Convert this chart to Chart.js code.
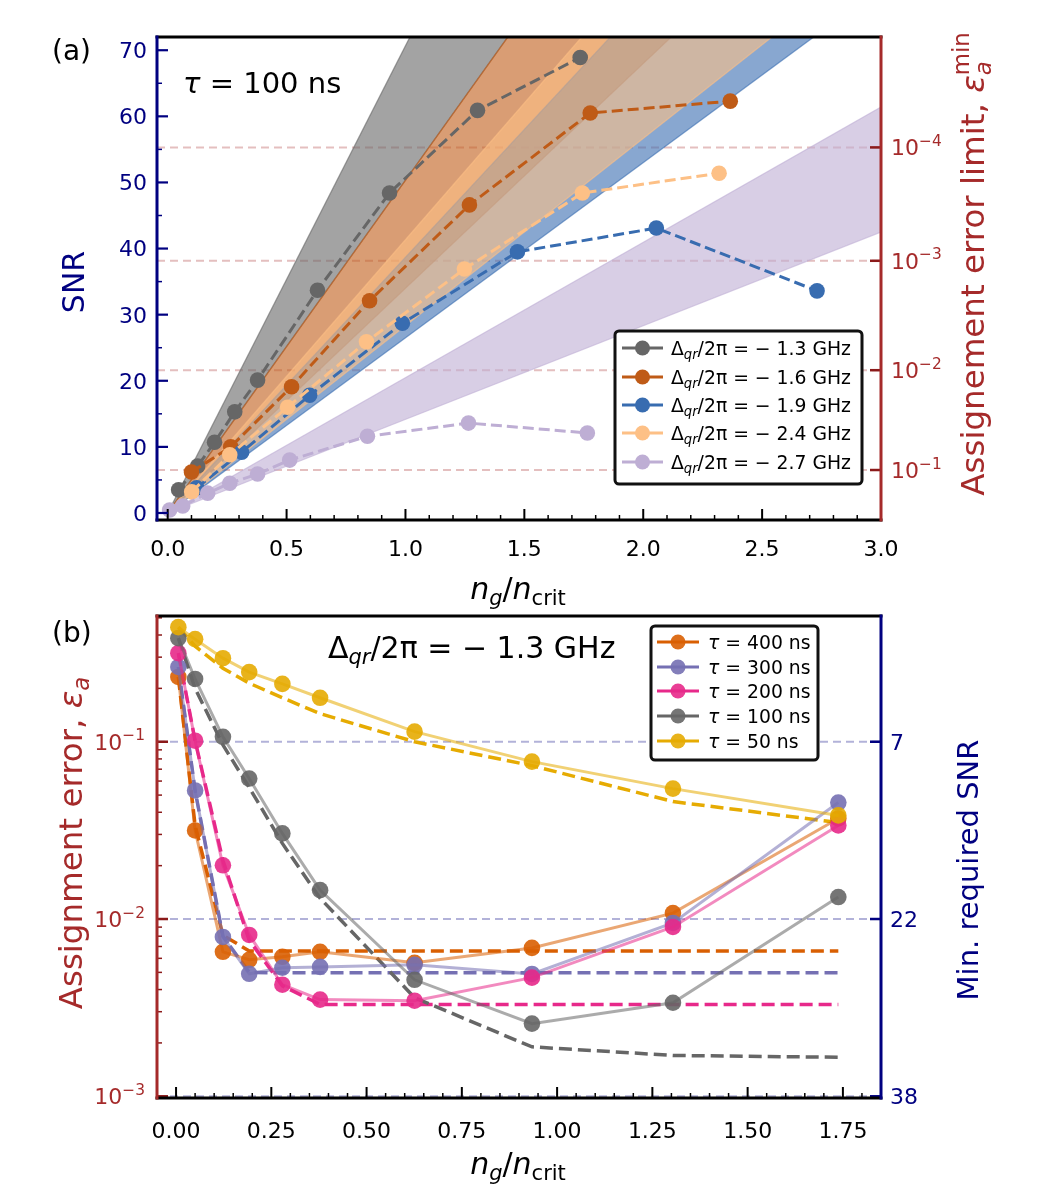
<!DOCTYPE html>
<html>
<head>
<meta charset="utf-8">
<script src="https://cdn.jsdelivr.net/npm/chart.js@4.4.1/dist/chart.umd.min.js"></script>
<style>
body { margin: 0; background: #fff; }
#wrap { position: relative; width: 1037px; height: 1200px; }
canvas { position: absolute; left: 0; }
</style>
</head>
<body>
<div id="wrap">
  <canvas id="chartA" width="1037" height="620" style="top:0"></canvas>
  <canvas id="chartB" width="1037" height="600" style="top:600px"></canvas>
</div>
<script>
// ---------- panel (a) : tau = 100 ns ----------
const ngTicksA = [0, 0.5, 1.0, 1.5, 2.0, 2.5, 3.0];
const snrTicks = [0, 10, 20, 30, 40, 50, 60, 70];
const errLimitSNR = [55.3, 38.15, 21.6, 6.5];      // where 1e-4 .. 1e-1 sit on the SNR axis
const errLimitExp = [-4, -3, -2, -1];

const detLabels = ['1.3', '1.6', '1.9', '2.4', '2.7'];
const detColors = ['#666666', '#bf5b17', '#386cb0', '#fdc086', '#beaed4'];

const ng13 = [0.046, 0.126, 0.197, 0.282, 0.378, 0.630, 0.933, 1.303, 1.735];
const snr13 = [3.5, 7.1, 10.7, 15.3, 20.1, 33.7, 48.4, 60.9, 68.9];
const ng16 = [0.100, 0.265, 0.521, 0.849, 1.269, 1.777, 2.366];
const snr16 = [6.2, 10.0, 19.1, 32.1, 46.6, 60.5, 62.3];
const ng19 = [0.122, 0.311, 0.597, 0.987, 1.471, 2.055, 2.731];
const snr19 = [3.8, 9.2, 17.8, 28.7, 39.5, 43.1, 33.6];
const ng24 = [0.101, 0.261, 0.504, 0.836, 1.248, 1.744, 2.319];
const snr24 = [3.2, 8.8, 16.0, 25.9, 36.9, 48.4, 51.4];
const ng27 = [0.008, 0.063, 0.168, 0.261, 0.378, 0.513, 0.840, 1.265, 1.765];
const snr27 = [0.45, 1.06, 3.0, 4.5, 5.9, 8.0, 11.6, 13.6, 12.1];

const ngSeries = [ng13, ng16, ng19, ng24, ng27];
const snrSeries = [snr13, snr16, snr19, snr24, snr27];

// shaded bands: edges start at the origin, SNR read where they reach ng = 3
const bandNg = [0, 3.0];
const bandHigh = [212, 151, 116, 124, 61.4];
const bandLow = [151, 102, 79.5, 85, 42.5];

// ---------- panel (b) : detuning -1.3 GHz ----------
const ngTicksB = [0, 0.25, 0.5, 0.75, 1.0, 1.25, 1.5, 1.75];
const errTicks = [0.1, 0.01, 0.001];
const errTickExp = [-1, -2, -3];
const reqSNRLabels = ['7', '22', '38'];

const tauLabels = ['400', '300', '200', '100', '50'];
const tauColors = ['#d95f02', '#7570b3', '#e7298a', '#666666', '#e6ab02'];
const ngB = [0.006, 0.05, 0.123, 0.192, 0.279, 0.378, 0.626, 0.934, 1.304, 1.738];

const err400 = [0.232, 0.0316, 0.00653, 0.00589, 0.00612, 0.00653, 0.00566, 0.00687, 0.0108, 0.0369];
const err300 = [0.264, 0.0531, 0.00792, 0.00491, 0.00531, 0.00537, 0.00552, 0.0049, 0.0095, 0.0454];
const err200 = [0.316, 0.1013, 0.0201, 0.00813, 0.00426, 0.00351, 0.00346, 0.00467, 0.00902, 0.0337];
const err100 = [0.384, 0.226, 0.1066, 0.062, 0.0304, 0.01455, 0.00454, 0.00257, 0.00337, 0.0133];
const err50 = [0.443, 0.379, 0.296, 0.247, 0.212, 0.177, 0.114, 0.0772, 0.0544, 0.0384];

const theo400 = [0.232, 0.0337, 0.0081, 0.0066, 0.0066, 0.0066, 0.0066, 0.0066, 0.0066, 0.0066];
const theo300 = [0.264, 0.053, 0.0080, 0.0050, 0.00497, 0.00497, 0.00497, 0.00497, 0.00497, 0.00497];
const theo200 = [0.316, 0.1013, 0.0214, 0.0076, 0.0042, 0.0033, 0.00329, 0.00329, 0.00329, 0.00329];
const theo100 = [0.384, 0.2, 0.096, 0.0552, 0.0267, 0.0131, 0.0036, 0.0019, 0.0017, 0.00166];
const theo50 = [0.443, 0.346, 0.26, 0.214, 0.177, 0.144, 0.100, 0.0733, 0.046, 0.035];

const errSeries = [err400, err300, err200, err100, err50];
const theoSeries = [theo400, theo300, theo200, theo100, theo50];

const NAVY = '#000080';
const BROWN = '#a52a2a';
const TICK_FONT = 22;
Chart.defaults.font.family = '"DejaVu Sans"';

function rgba(hex, a) {
    const n = parseInt(hex.slice(1), 16);
    return 'rgba(' + (n >> 16) + ',' + ((n >> 8) & 255) + ',' + (n & 255) + ',' + a + ')';
}

// small mathtext-like writer: parts are [text, kind]
// kind: '' normal, 'i' italic, 'sb' subscript, 'sbi' italic subscript, 'sp' superscript, 'ss' "sub|sup"
function fontOf(size, it) { return (it ? 'italic ' : '') + size + 'px "DejaVu Sans"'; }
function layoutRich(ctx, parts, size) {
    let w = 0;
    const items = [];
    for (const [t, k] of parts) {
        if (k === 'ss') {
            const [sb, sp] = t.split('|');
            const f1 = fontOf(size * 0.7, true), f2 = fontOf(size * 0.7, false);
            ctx.font = f1; const w1 = ctx.measureText(sb).width;
            ctx.font = f2; const w2 = ctx.measureText(sp).width;
            items.push({t: sb, x: w, dy: size * 0.22, f: f1});
            items.push({t: sp, x: w, dy: -size * 0.45, f: f2});
            w += Math.max(w1, w2);
            continue;
        }
        const small = (k === 'sb' || k === 'sbi' || k === 'sp');
        const f = fontOf(small ? size * 0.7 : size, k === 'i' || k === 'sbi');
        ctx.font = f;
        const dy = (k === 'sb' || k === 'sbi') ? size * 0.22 : (k === 'sp' ? -size * 0.42 : 0);
        items.push({t, x: w, dy, f});
        w += ctx.measureText(t).width;
    }
    return {items, w};
}
function drawRich(ctx, parts, x, y, size, color, align, rot) {
    ctx.save();
    ctx.translate(x, y);
    if (rot) ctx.rotate(rot);
    const L = layoutRich(ctx, parts, size);
    const x0 = align === 'center' ? -L.w / 2 : (align === 'right' ? -L.w : 0);
    ctx.fillStyle = color;
    ctx.textAlign = 'left';
    ctx.textBaseline = 'alphabetic';
    for (const it of L.items) {
        ctx.font = it.f;
        ctx.fillText(it.t, x0 + it.x, size * 0.36 + it.dy);
    }
    ctx.restore();
}
function drawPow(ctx, x, y, exp, color, align) {
    drawRich(ctx, [['10', ''], ['\u2212' + Math.abs(exp), 'sp']], x, y, TICK_FONT, color, align);
}

function tickY(ctx, area, scale, vals, side, len, lw, color) {
    ctx.save();
    ctx.strokeStyle = color; ctx.lineWidth = lw;
    for (const v of vals) {
        const p = scale.getPixelForValue(v);
        if (p < area.top - 0.5 || p > area.bottom + 0.5) continue;
        const x0 = side === 'left' ? area.left : area.right;
        const x1 = side === 'left' ? x0 + len : x0 - len;
        ctx.beginPath(); ctx.moveTo(x0, p); ctx.lineTo(x1, p); ctx.stroke();
    }
    ctx.restore();
}
function tickX(ctx, area, scale, vals, len, lw) {
    ctx.save();
    ctx.strokeStyle = '#000'; ctx.lineWidth = lw;
    for (const v of vals) {
        const p = scale.getPixelForValue(v);
        ctx.beginPath(); ctx.moveTo(p, area.bottom); ctx.lineTo(p, area.bottom - len); ctx.stroke();
    }
    ctx.restore();
}
function spines(ctx, area, leftColor, rightColor) {
    ctx.save();
    ctx.lineWidth = 3;
    ctx.lineCap = 'square';
    const seg = (c, x0, y0, x1, y1) => { ctx.strokeStyle = c; ctx.beginPath(); ctx.moveTo(x0, y0); ctx.lineTo(x1, y1); ctx.stroke(); };
    seg('#000', area.left, area.top, area.right, area.top);
    seg('#000', area.left, area.bottom, area.right, area.bottom);
    seg(leftColor, area.left, area.top, area.left, area.bottom);
    seg(rightColor, area.right, area.top, area.right, area.bottom);
    ctx.restore();
}
function legendBox(ctx, box, rows, ys, lx0, lx1, tx, colorsLine, colorsDot) {
    ctx.save();
    ctx.fillStyle = '#fff';
    ctx.strokeStyle = '#111';
    ctx.lineWidth = 3;
    ctx.beginPath();
    ctx.roundRect(box[0], box[1], box[2] - box[0], box[3] - box[1], 4);
    ctx.fill(); ctx.stroke();
    rows.forEach((parts, i) => {
        ctx.strokeStyle = colorsLine[i]; ctx.lineWidth = 3;
        ctx.beginPath(); ctx.moveTo(lx0, ys[i]); ctx.lineTo(lx1, ys[i]); ctx.stroke();
        ctx.fillStyle = colorsDot[i];
        ctx.beginPath(); ctx.arc((lx0 + lx1) / 2, ys[i], 7.5, 0, Math.PI * 2); ctx.fill();
        drawRich(ctx, parts, tx, ys[i], 18.8, '#000', 'left');
    });
    ctx.restore();
}
function xLabels(ctx, area, scale, vals, digits, dy) {
    vals.forEach(v => drawRich(ctx, [[v.toFixed(digits), '']], scale.getPixelForValue(v), area.bottom + dy, TICK_FONT, '#000', 'center'));
}
const ngTitle = [['n', 'i'], ['g', 'sbi'], ['/', ''], ['n', 'i'], ['crit', 'sb']];
const noTicks = {display: false};

// ---------------- chart (a) ----------------
const dsA = [];
detColors.forEach((c, i) => {
    dsA.push({
        data: ngSeries[i].map((v, j) => ({x: v, y: snrSeries[i][j]})),
        borderColor: c, borderWidth: 3, borderDash: [11, 5],
        pointRadius: 7.8, pointBackgroundColor: c, pointBorderWidth: 0,
        fill: false, order: 5 - i
    });
});
detColors.forEach((c, i) => {
    dsA.push({
        data: [{x: bandNg[0], y: 0}, {x: bandNg[1], y: bandLow[i]}],
        borderColor: rgba(c, 0.6), borderWidth: 1.3, pointRadius: 0, fill: false, order: 40 - 2 * i
    });
    dsA.push({
        data: [{x: bandNg[0], y: 0}, {x: bandNg[1], y: bandHigh[i]}],
        borderColor: rgba(c, 0.6), borderWidth: 1.3, pointRadius: 0,
        fill: '-1', backgroundColor: rgba(c, 0.6), order: 41 - 2 * i
    });
});
errLimitSNR.forEach(v => {
    dsA.push({
        data: [{x: -0.045, y: v}, {x: 3.0, y: v}],
        borderColor: 'rgba(165,42,42,0.3)', borderWidth: 2, borderDash: [8, 5],
        pointRadius: 0, fill: false, order: 60
    });
});

const decoA = {
    id: 'decoA',
    afterDraw(chart) {
        const ctx = chart.ctx, a = chart.chartArea;
        const sx = chart.scales.x, sy = chart.scales.y;
        const minorX = [], minorY = [];
        for (let k = 1; k <= 30; k++) if (k % 5) minorX.push(k / 10);
        for (let k = 5; k < 72; k += 10) minorY.push(k);
        tickX(ctx, a, sx, ngTicksA, 11, 2);
        tickX(ctx, a, sx, minorX, 5, 1.5);
        tickY(ctx, a, sy, snrTicks, 'left', 11, 2.2, NAVY);
        tickY(ctx, a, sy, minorY, 'left', 5, 1.5, NAVY);
        tickY(ctx, a, sy, errLimitSNR, 'right', 11, 2.5, '#8b1a1a');
        spines(ctx, a, NAVY, BROWN);
        xLabels(ctx, a, sx, ngTicksA, 1, 28);
        snrTicks.forEach(v => drawRich(ctx, [[String(v), '']], a.left - 10, sy.getPixelForValue(v), TICK_FONT, NAVY, 'right'));
        errLimitSNR.forEach((v, i) => drawPow(ctx, a.right + 10, sy.getPixelForValue(v), errLimitExp[i], BROWN, 'left'));

        drawRich(ctx, [['(a)', '']], 52, 50, 28, '#000', 'left');
        drawRich(ctx, [['\u03c4', 'i'], [' = 100 ns', '']], 183, 83, 29, '#000', 'left');
        drawRich(ctx, [['SNR', '']], 73, 282, 30, NAVY, 'center', -Math.PI / 2);
        drawRich(ctx, [['Assignement error limit, ', ''], ['\u03b5', 'i'], ['a|min', 'ss']],
            972, 264, 32.5, BROWN, 'center', -Math.PI / 2);
        drawRich(ctx, ngTitle, 518, 588, 30, '#000', 'center');

        const rows = detLabels.map(v => [['\u0394', ''], ['qr', 'sbi'], ['/2\u03c0 = \u2212 ' + v + ' GHz', '']]);
        legendBox(ctx, [615, 331, 862, 484], rows, [348, 377, 405, 433, 462], 622, 663, 671, detColors, detColors);
    }
};

new Chart(document.getElementById('chartA'), {
    type: 'line',
    data: {datasets: dsA},
    options: {
        responsive: false, animation: false, events: [],
        layout: {padding: {top: 37, left: 0, right: 0, bottom: 0}},
        plugins: {legend: {display: false}, tooltip: {enabled: false}},
        scales: {
            x: {
                type: 'linear', min: -0.045, max: 3.0, ticks: noTicks,
                grid: {display: false}, border: {display: false},
                afterFit: s => { s.height = 100; }
            },
            y: {
                type: 'linear', position: 'left', min: -1.06, max: 72, ticks: noTicks,
                grid: {display: false}, border: {display: false},
                afterFit: s => { s.width = 157; }
            },
            y2: {
                type: 'linear', position: 'right', min: -1.06, max: 72, ticks: noTicks,
                grid: {display: false}, border: {display: false},
                afterFit: s => { s.width = 156; }
            }
        }
    },
    plugins: [decoA]
});

// ---------------- chart (b) ----------------
const dsB = [];
tauColors.forEach((c, i) => {
    dsB.push({
        data: ngB.map((v, j) => ({x: v, y: errSeries[i][j]})),
        borderColor: rgba(c, 0.55), borderWidth: 3,
        pointRadius: 8.3, pointBackgroundColor: rgba(c, 0.9), pointBorderWidth: 0,
        fill: false, order: 5 - i
    });
});
tauColors.forEach((c, i) => {
    dsB.push({
        data: ngB.map((v, j) => ({x: v, y: theoSeries[i][j]})),
        borderColor: c, borderWidth: 3.5, borderDash: [13, 6],
        pointRadius: 0, fill: false, order: 20 - i
    });
});
errTicks.forEach(v => {
    dsB.push({
        data: [{x: -0.05, y: v}, {x: 1.85, y: v}],
        borderColor: 'rgba(0,0,128,0.3)', borderWidth: 2, borderDash: [8, 5],
        pointRadius: 0, fill: false, order: 60
    });
});

const decoB = {
    id: 'decoB',
    afterDraw(chart) {
        const ctx = chart.ctx, a = chart.chartArea;
        const sx = chart.scales.x, sy = chart.scales.y;
        const minorX = [], minorY = [];
        for (let k = 1; k <= 37; k++) if (k % 5) minorX.push(k * 0.05);
        [0.001, 0.01, 0.1].forEach(d => { for (let m = 2; m <= 9; m++) minorY.push(m * d); });
        tickX(ctx, a, sx, ngTicksB, 11, 2);
        tickX(ctx, a, sx, minorX, 5, 1.5);
        tickY(ctx, a, sy, errTicks, 'left', 11, 2.5, '#8b1a1a');
        tickY(ctx, a, sy, minorY, 'left', 5, 1.5, '#8b1a1a');
        tickY(ctx, a, sy, errTicks, 'right', 11, 2.5, NAVY);
        spines(ctx, a, BROWN, NAVY);
        xLabels(ctx, a, sx, ngTicksB, 2, 32);
        errTicks.forEach((v, i) => {
            const p = sy.getPixelForValue(v);
            drawPow(ctx, a.left - 12, p, errTickExp[i], BROWN, 'right');
            drawRich(ctx, [[reqSNRLabels[i], '']], a.right + 9, p, TICK_FONT, NAVY, 'left');
        });

        drawRich(ctx, [['(b)', '']], 52, 32, 28, '#000', 'left');
        drawRich(ctx, [['\u0394', ''], ['qr', 'sbi'], ['/2\u03c0 = \u2212 1.3 GHz', '']], 328, 47, 30, '#000', 'left');
        drawRich(ctx, [['Assignment error, ', ''], ['\u03b5', 'i'], ['a', 'sbi']], 70, 243, 32.5, BROWN, 'center', -Math.PI / 2);
        drawRich(ctx, [['Min. required SNR', '']], 968, 270, 29, NAVY, 'center', -Math.PI / 2);
        drawRich(ctx, ngTitle, 518, 563, 30, '#000', 'center');

        const rows = tauLabels.map(v => [['\u03c4', 'i'], [' = ' + v + ' ns', '']]);
        legendBox(ctx, [651, 26, 818, 160], rows, [42, 67, 91, 116, 141], 657, 699, 708,
            tauColors, tauColors.map(c => rgba(c, 0.9)));
    }
};

new Chart(document.getElementById('chartB'), {
    type: 'line',
    data: {datasets: dsB},
    options: {
        responsive: false, animation: false, events: [],
        layout: {padding: {top: 16, left: 0, right: 0, bottom: 0}},
        plugins: {legend: {display: false}, tooltip: {enabled: false}},
        scales: {
            x: {
                type: 'linear', min: -0.05, max: 1.85, ticks: noTicks,
                grid: {display: false}, border: {display: false},
                afterFit: s => { s.height = 102; }
            },
            y: {
                type: 'logarithmic', position: 'left', min: 0.000978, max: 0.512, ticks: noTicks,
                grid: {display: false}, border: {display: false},
                afterFit: s => { s.width = 157; }
            },
            y2: {
                type: 'logarithmic', position: 'right', min: 0.000978, max: 0.512, ticks: noTicks,
                grid: {display: false}, border: {display: false},
                afterFit: s => { s.width = 156; }
            }
        }
    },
    plugins: [decoB]
});
</script>
</body>
</html>
